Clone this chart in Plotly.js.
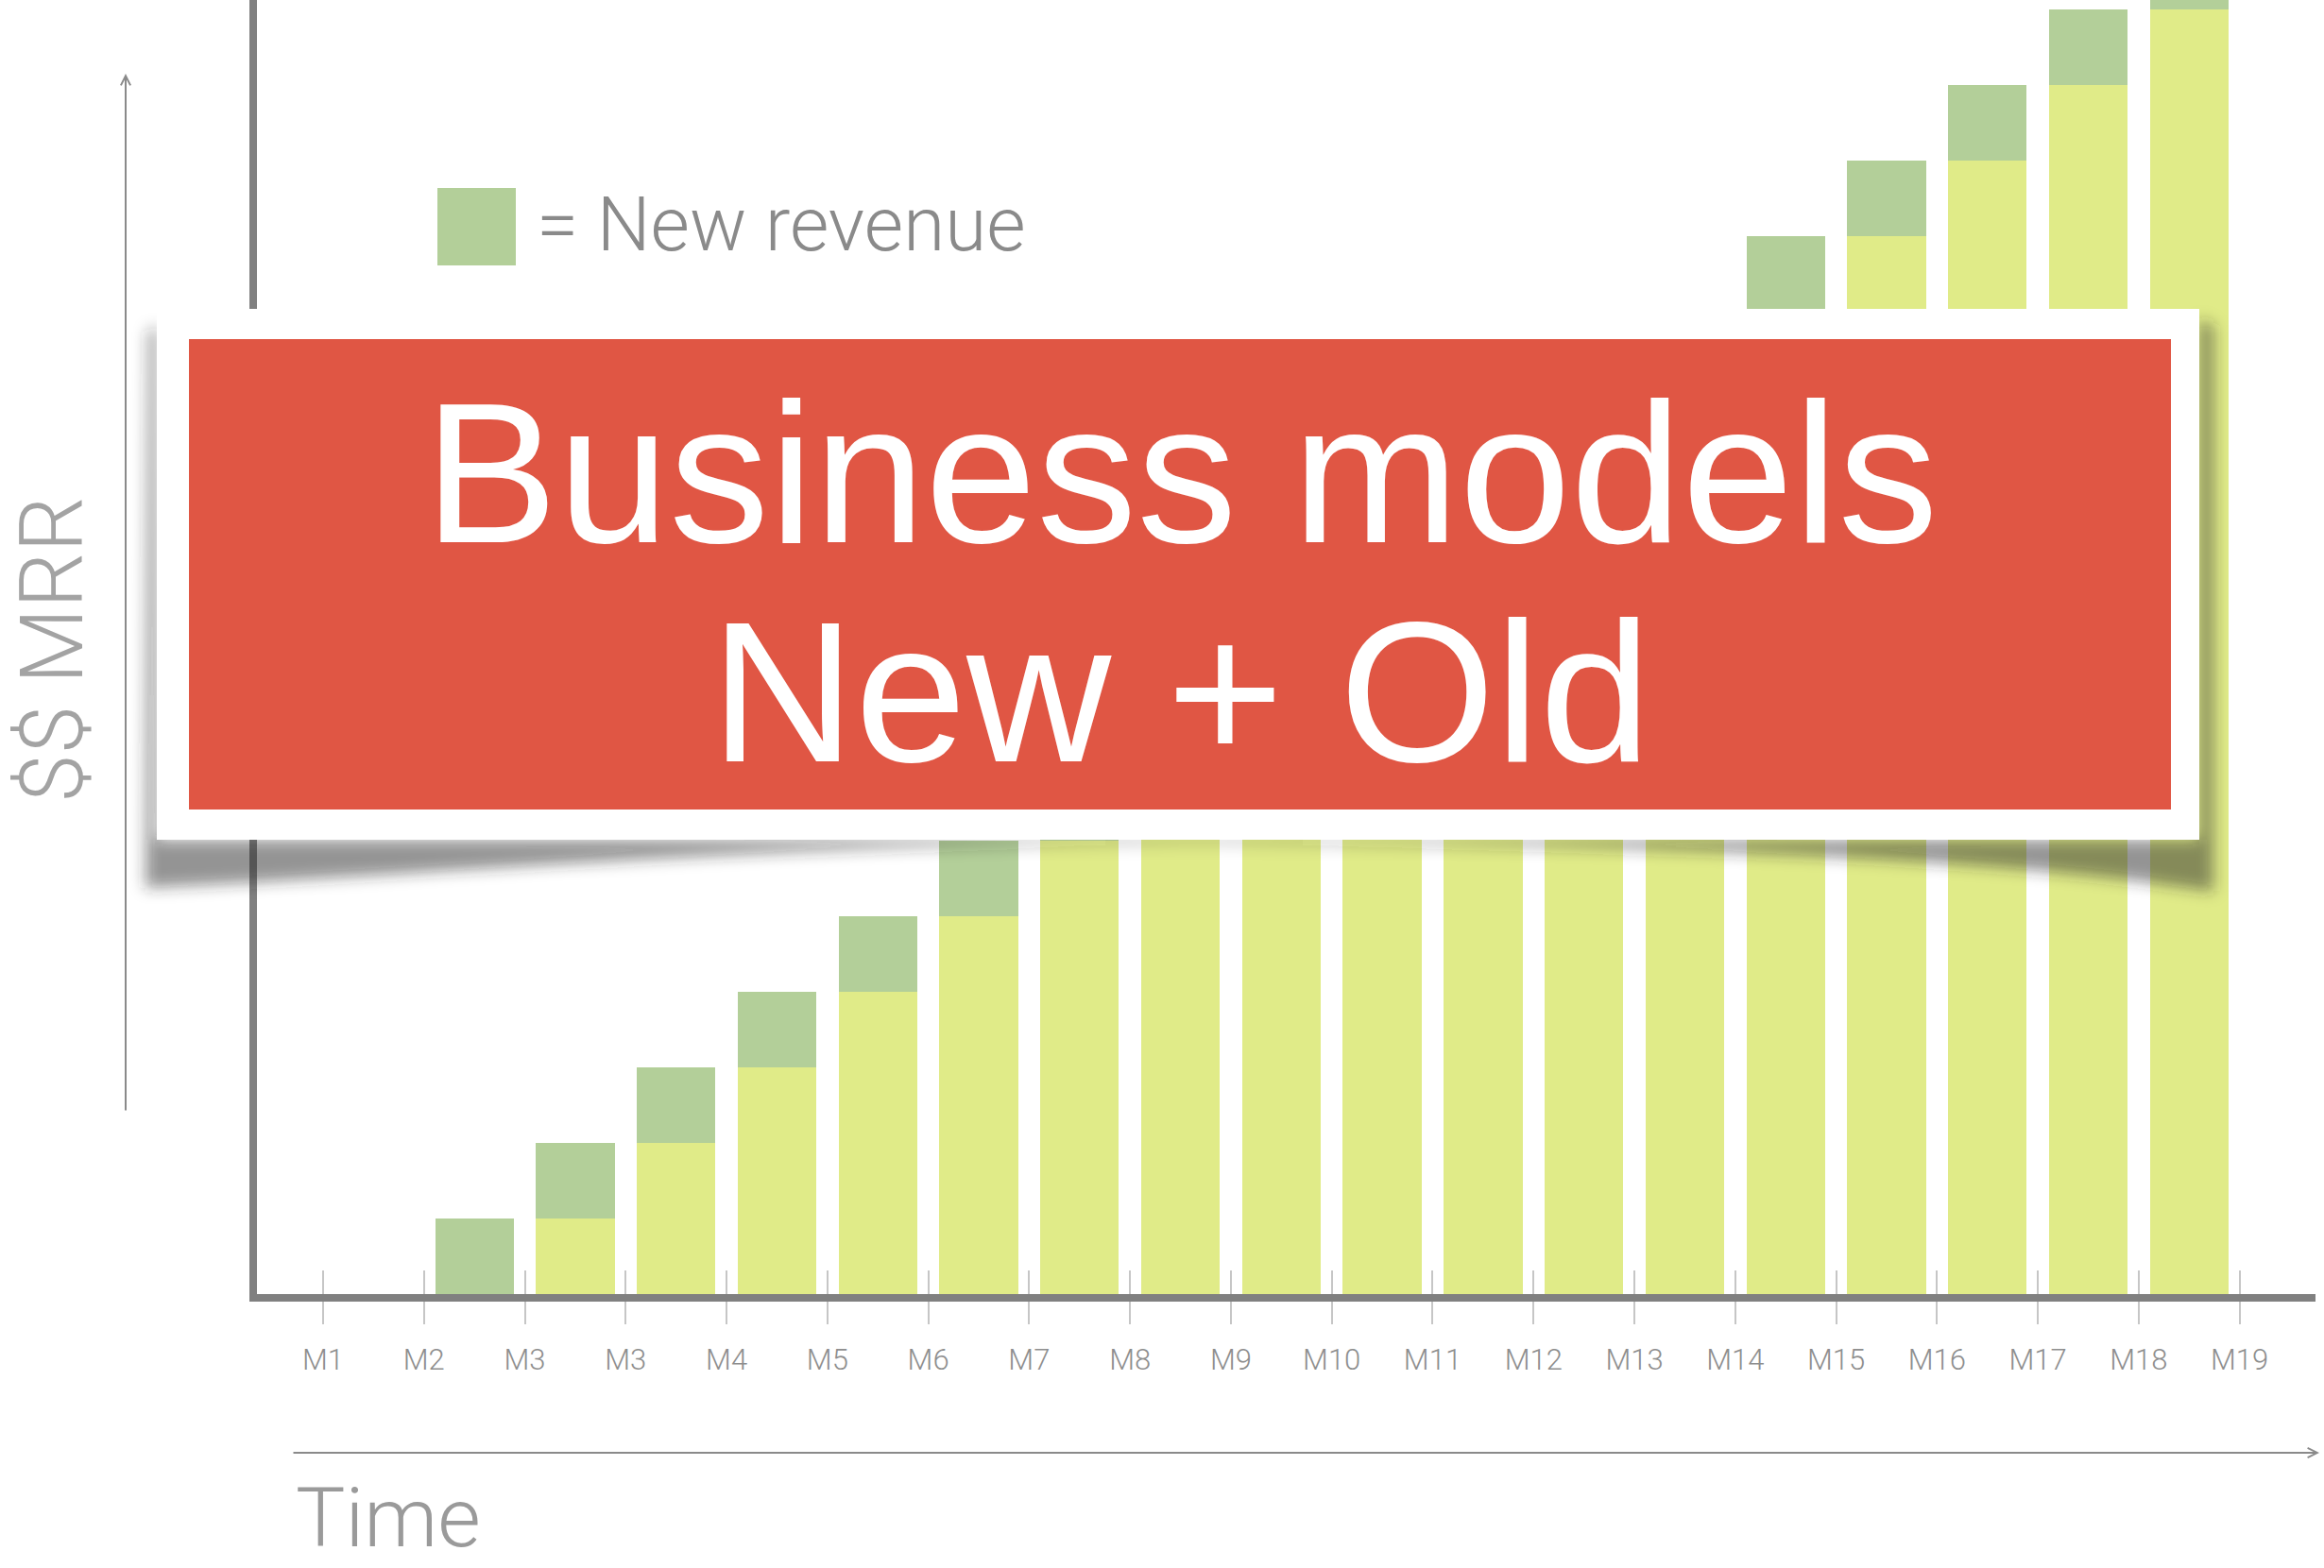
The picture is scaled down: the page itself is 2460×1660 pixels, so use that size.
<!DOCTYPE html>
<html>
<head>
<meta charset="utf-8">
<script src="https://cdn.plot.ly/plotly-3.0.1.min.js"></script>
<style>
  html, body { margin: 0; padding: 0; background: #ffffff; }
  #chart { width: 2460px; height: 1660px; }
</style>
</head>
<body>
<div id="chart"></div>
<script>
// ---- data ----
var tickLabels = ['M1','M2','M3','M3','M4','M5','M6','M7','M8','M9','M10','M11','M12','M13','M14','M15','M16','M17','M18','M19'];
var oldRevenue = [0, 0, 1, 2, 3, 4, 5, 6, 7, 8, 9, 10, 11, 12, 13, 14, 15, 16, 17];
var newRevenue = [0, 1, 1, 1, 1, 1, 1, 1, 1, 1, 1, 1, 1, 1, 1, 1, 1, 1, 1];
var legendLabel = '= New revenue';
var bannerLines = ['Business models', 'New + Old'];
var yTitle = '$$ MRR';
var xTitle = 'Time';

// ---- layout geometry (pixels) ----
var FIG_W = 2460, FIG_H = 1660;
var L = 272, R = 2451, T = 0, B = 1370;
var PW = R - L, PH = B - T;
function px(x) { return (x - L) / PW; }
function py(y) { return (B - y) / PH; }

var tickVals = tickLabels.map(function (_, i) { return i; });
var slotCenters = oldRevenue.map(function (_, i) { return i + 0.5; });

var COL_OLD = '#E0EB88';
var COL_NEW = '#B3CF99';
var GREY_TXT = '#8e8e8e';
var LIGHT_FONT = 'Roboto, "Open Sans", sans-serif';

var traces = [
  {
    type: 'bar', x: slotCenters, y: oldRevenue, width: 0.78,
    marker: { color: COL_OLD, line: { width: 0 } },
    hoverinfo: 'skip', showlegend: false
  },
  {
    type: 'bar', x: slotCenters, y: newRevenue, width: 0.78,
    marker: { color: COL_NEW, line: { width: 0 } },
    hoverinfo: 'skip', showlegend: false
  },
  {
    type: 'scatter', x: [], y: [], xaxis: 'x2', yaxis: 'y',
    hoverinfo: 'skip', showlegend: false
  }
];

var xRange = [(L - 342) / 106.77, (R - 342) / 106.77];

var shadowPath = [
  'M', px(166), py(345),
  'L', px(157), py(352),
  'L', px(154), py(940),
  'C', px(520), py(922), px(820), py(893), px(1250), py(892),
  'C', px(1700), py(893), px(2100), py(905), px(2343), py(944),
  'L', px(2343), py(345),
  'L', px(2328), py(338),
  'L', px(2328), py(889),
  'L', px(166), py(889), 'Z'
].join(' ');

var layout = {
  width: FIG_W, height: FIG_H,
  margin: { l: L, r: FIG_W - R, t: T, b: FIG_H - B, pad: 0 },
  paper_bgcolor: '#ffffff', plot_bgcolor: '#ffffff',
  barmode: 'stack',
  showlegend: false,
  xaxis: {
    range: xRange, fixedrange: true,
    tickmode: 'array', tickvals: tickVals, ticktext: tickLabels,
    ticks: 'outside', ticklen: 24, tickwidth: 2, tickcolor: '#c6c6c6',
    showline: true, linewidth: 8, linecolor: '#808080',
    showgrid: false, zeroline: false,
    tickfont: { family: LIGHT_FONT, size: 31, color: GREY_TXT, weight: 300 },
    ticklabelstandoff: 11
  },
  xaxis2: {
    overlaying: 'x', anchor: 'y', side: 'bottom', range: xRange, fixedrange: true,
    tickmode: 'array', tickvals: tickVals,
    ticks: 'inside', ticklen: 25, tickwidth: 2, tickcolor: '#c6c6c6',
    showticklabels: false, showline: false, showgrid: false, zeroline: false
  },
  yaxis: {
    range: [0, PH / 80], fixedrange: true,
    showline: true, linewidth: 8, linecolor: '#808080',
    ticks: '', showticklabels: false, showgrid: false, zeroline: false
  },
  shapes: [
    // legend swatch
    { type: 'rect', xref: 'paper', yref: 'paper',
      x0: px(463), x1: px(546), y0: py(281), y1: py(199),
      fillcolor: COL_NEW, line: { width: 0 }, layer: 'above' },
    // banner shadow
    { type: 'path', xref: 'paper', yref: 'paper', path: shadowPath,
      fillcolor: 'rgba(40,40,40,0.5)', line: { width: 0 }, layer: 'above' },
    // white frame
    { type: 'rect', xref: 'paper', yref: 'paper',
      x0: px(166), x1: px(2328), y0: py(889), y1: py(327),
      fillcolor: '#ffffff', line: { width: 0 }, layer: 'above' },
    // red panel
    { type: 'rect', xref: 'paper', yref: 'paper',
      x0: px(200), x1: px(2298), y0: py(857), y1: py(359),
      fillcolor: '#E05644', line: { width: 0 }, layer: 'above' }
  ],
  annotations: [
    { xref: 'paper', yref: 'paper', x: px(566), y: py(238), xanchor: 'left', yanchor: 'middle',
      text: legendLabel, showarrow: false,
      font: { family: LIGHT_FONT, size: 80, color: '#8a8a8a', weight: 300 } },
    { xref: 'paper', yref: 'paper', x: px(55), y: py(688), xanchor: 'center', yanchor: 'middle',
      text: yTitle, textangle: -90, showarrow: false,
      font: { family: LIGHT_FONT, size: 93, color: '#a3a3a3', weight: 300 } },
    { xref: 'paper', yref: 'paper', x: px(312), y: py(1659), xanchor: 'left', yanchor: 'bottom',
      text: xTitle, showarrow: false, borderpad: 0,
      font: { family: LIGHT_FONT, size: 88, color: '#9a9a9a', weight: 300 } },
    // y arrow
    { xref: 'paper', yref: 'paper', x: px(133), y: py(78), ax: 0, ay: 1099,
      text: '', showarrow: true, arrowhead: 5, arrowsize: 1, arrowwidth: 2,
      arrowcolor: '#8a8a8a', standoff: 0, startstandoff: 0 },
    // x arrow
    { xref: 'paper', yref: 'paper', x: px(2455), y: py(1538), ax: -2146, ay: 0,
      text: '', showarrow: true, arrowhead: 5, arrowsize: 1, arrowwidth: 2,
      arrowcolor: '#8a8a8a', standoff: 0, startstandoff: 0 },
    // banner text
    { xref: 'paper', yref: 'paper', x: px(1250), y: py(500), xanchor: 'center', yanchor: 'middle',
      text: bannerLines[0], showarrow: false,
      font: { family: '"Liberation Sans", Arial, Helvetica, sans-serif', size: 212, color: '#ffffff' } },
    { xref: 'paper', yref: 'paper', x: px(1250), y: py(732), xanchor: 'center', yanchor: 'middle',
      text: bannerLines[1], showarrow: false,
      font: { family: '"Liberation Sans", Arial, Helvetica, sans-serif', size: 212, color: '#ffffff' } }
  ]
};

Plotly.newPlot('chart', traces, layout, { staticPlot: true, displayModeBar: false }).then(function (gd) {
  // soften the banner shadow
  var svg = gd.querySelector('svg.main-svg');
  var defs = svg.querySelector('defs');
  var NS = 'http://www.w3.org/2000/svg';
  var filt = document.createElementNS(NS, 'filter');
  filt.setAttribute('id', 'bannerBlur');
  filt.setAttribute('x', '-10%'); filt.setAttribute('y', '-50%');
  filt.setAttribute('width', '120%'); filt.setAttribute('height', '200%');
  var blur = document.createElementNS(NS, 'feGaussianBlur');
  blur.setAttribute('stdDeviation', '8');
  filt.appendChild(blur);
  defs.appendChild(filt);
  var p = gd.querySelector('.layer-above .shapelayer path[data-index="1"]');
  if (p) p.setAttribute('filter', 'url(#bannerBlur)');
});
</script>
</body>
</html>
